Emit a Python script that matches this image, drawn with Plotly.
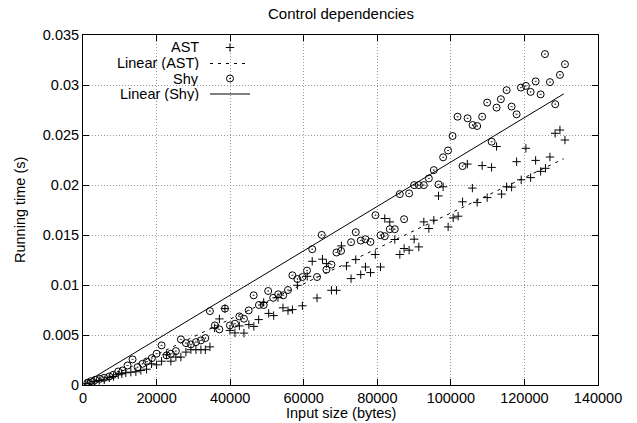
import plotly.graph_objects as go

# ---- data ----
ast_x = [762, 1687, 3048, 4408, 5769, 7129, 8299, 9578, 10557, 11646, 13006, 14367, 15727, 17278,
         18639, 20000, 21360, 22720, 23890, 25251, 26611, 27972, 29332, 30693, 32054, 33251, 34503,
         35782, 37087, 38584, 39944, 41305, 42502, 43754, 45087, 46447, 47753, 49114, 50475, 51835,
         53005, 54366, 55726, 56924, 58284, 59645, 60951, 62311, 63618, 65087, 66175, 67536, 68896,
         70257, 71618, 72869, 74148, 75508, 76787, 78147, 79453, 80868, 82038, 83399, 84759, 86120,
         87290, 88650, 90011, 91290, 92650, 94011, 95371, 96650, 97902, 99262, 100622, 101983,
         103180, 104487, 105847, 107153, 108513, 109874, 111071, 112432, 113792, 115153, 116513,
         117874, 119126, 120405, 121684, 123044, 124405, 125711, 126935, 128350, 129656, 131016]
ast_y = [0.00012, 0.00018, 0.00035, 0.00045, 0.00052, 0.00072, 0.00085, 0.00102, 0.00112, 0.00122,
         0.00128, 0.00132, 0.00145, 0.00158, 0.00212, 0.00202, 0.00238, 0.00303, 0.00238, 0.00279,
         0.00279, 0.00329, 0.00353, 0.00353, 0.00353, 0.00353, 0.00381, 0.00571, 0.00661, 0.00764,
         0.00546, 0.00521, 0.00591, 0.00519, 0.00604, 0.00586, 0.00654, 0.00825, 0.00716, 0.00694,
         0.00874, 0.00772, 0.00743, 0.00754, 0.00997, 0.00792, 0.01087, 0.01237, 0.00870, 0.01258,
         0.01214, 0.00947, 0.00947, 0.01391, 0.01190, 0.01064, 0.01254, 0.01104, 0.01180, 0.01124,
         0.01305, 0.01180, 0.01665, 0.01631, 0.01455, 0.01305, 0.01365, 0.01348, 0.01458, 0.01381,
         0.01631, 0.01565, 0.01648, 0.01891, 0.01982, 0.01581, 0.01671, 0.01688, 0.01832, 0.02209,
         0.01969, 0.01826, 0.02194, 0.01874, 0.02176, 0.02385, 0.01909, 0.01982, 0.01979, 0.02233,
         0.02052, 0.02367, 0.02074, 0.02246, 0.02136, 0.02167, 0.02280, 0.02517, 0.02550, 0.02450]

shy_x = [1224, 2122, 3320, 4571, 5769, 7129, 8217, 9578, 10748, 12108, 13469, 14829, 16190, 17360,
         18720, 20000, 21360, 22720, 23890, 25251, 26611, 27972, 29332, 30693, 32054, 33251, 34503,
         35863, 37060, 38584, 39944, 41305, 42502, 43754, 45033, 46393, 47835, 49114, 50339, 51699,
         53060, 54420, 55726, 56924, 58284, 59645, 60897, 62311, 63618, 64896, 66175, 67536, 68896,
         70148, 72869, 74148, 75508, 76787, 78147, 79508, 80868, 82038, 83399, 84759, 86120, 87290,
         88650, 90011, 91290, 92650, 94011, 95371, 96650, 97902, 99235, 100459, 101820, 103180,
         104541, 105901, 107153, 108513, 109874, 111098, 112432, 113602, 115153, 116513, 117874,
         119044, 120405, 121684, 123044, 124405, 125575, 126935, 128377, 129656, 131016]
shy_y = [0.00022, 0.00038, 0.00052, 0.00062, 0.00072, 0.00085, 0.00102, 0.00135, 0.00145, 0.00195,
         0.00256, 0.00178, 0.00212, 0.00235, 0.00269, 0.00313, 0.00396, 0.00296, 0.00313, 0.00339,
         0.00456, 0.00419, 0.00406, 0.00429, 0.00446, 0.00469, 0.00739, 0.00596, 0.00556, 0.00764,
         0.00596, 0.00613, 0.00686, 0.00663, 0.00746, 0.00897, 0.00800, 0.00800, 0.00940, 0.00872,
         0.00907, 0.00897, 0.00950, 0.01097, 0.01060, 0.01080, 0.01144, 0.01358, 0.01080, 0.01501,
         0.01154, 0.01204, 0.01325, 0.01341, 0.01428, 0.01528, 0.01445, 0.01458, 0.01431, 0.01698,
         0.01498, 0.01488, 0.01558, 0.01558, 0.01909, 0.01658, 0.01916, 0.01999, 0.01999, 0.01999,
         0.02066, 0.02149, 0.02006, 0.02277, 0.02345, 0.02490, 0.02683, 0.02189, 0.02667, 0.02600,
         0.02590, 0.02683, 0.02824, 0.02433, 0.02774, 0.02858, 0.02948, 0.02784, 0.02707, 0.02974,
         0.02991, 0.02931, 0.03036, 0.02906, 0.03309, 0.03029, 0.02808, 0.03101, 0.03208]

# linear fit coefficients (slope, intercept) as drawn in the reference
ast_fit = (1.77e-7, -0.0005)
shy_fit = (2.22e-7, 0.0001)
fit_x_range = [1000, 130700]

x_ticks = [0, 20000, 40000, 60000, 80000, 100000, 120000, 140000]
x_tick_labels = ["0", "20000", "40000", "60000", "80000", "100000", "120000", "140000"]
y_ticks = [0, 0.005, 0.01, 0.015, 0.02, 0.025, 0.03, 0.035]
y_tick_labels = ["0", "0.005", "0.01", "0.015", "0.02", "0.025", "0.03", "0.035"]

legend_labels = ["AST", "Linear (AST)", "Shy", "Linear (Shy)"]

FONT = "Liberation Sans, Arial, Helvetica, sans-serif"
FS = 14.5
FS_TITLE = 15

ast_fit_y = [ast_fit[0] * x + ast_fit[1] for x in fit_x_range]
shy_fit_y = [shy_fit[0] * x + shy_fit[1] for x in fit_x_range]

fig = go.Figure()

plus_marker = dict(symbol="cross-thin", size=6, color="black", line=dict(color="black", width=1))
circ_marker = dict(symbol="circle-open-dot", size=7, color="black", line=dict(color="black", width=1))

fig.add_trace(go.Scatter(x=ast_x, y=ast_y, mode="markers", marker=plus_marker, showlegend=False))
fig.add_trace(go.Scatter(x=fit_x_range, y=ast_fit_y, mode="lines",
                         line=dict(color="black", width=1, dash="3px,5px"), showlegend=False))
fig.add_trace(go.Scatter(x=shy_x, y=shy_y, mode="markers", marker=circ_marker, showlegend=False))
fig.add_trace(go.Scatter(x=fit_x_range, y=shy_fit_y, mode="lines",
                         line=dict(color="black", width=1), showlegend=False))

# ---- custom key (gnuplot style: text right, sample left) on an overlay axis ----
L, R, T, B = 83, 39, 35, 38
W, H = 637, 423
pw, ph = W - L - R, H - T - B
def px2x(px):
    return (px - L) / pw
def py2y(py):
    return (H - B - py) / ph

rows = [47.5, 63.5, 78.5, 94]
key_text_x = px2x(200)
key_samp_x0, key_samp_x1 = px2x(210), px2x(250)
key_mark_x = px2x(230)

fig.add_trace(go.Scatter(x=[key_mark_x], y=[py2y(rows[0])], mode="markers", marker=plus_marker,
                         xaxis="x2", yaxis="y2", showlegend=False, hoverinfo="skip"))
fig.add_trace(go.Scatter(x=[key_samp_x0, key_samp_x1], y=[py2y(rows[1])] * 2, mode="lines",
                         line=dict(color="black", width=1, dash="3px,5px"),
                         xaxis="x2", yaxis="y2", showlegend=False, hoverinfo="skip"))
fig.add_trace(go.Scatter(x=[key_mark_x], y=[py2y(rows[2])], mode="markers", marker=circ_marker,
                         xaxis="x2", yaxis="y2", showlegend=False, hoverinfo="skip"))
fig.add_trace(go.Scatter(x=[key_samp_x0, key_samp_x1], y=[py2y(rows[3])] * 2, mode="lines",
                         line=dict(color="black", width=1),
                         xaxis="x2", yaxis="y2", showlegend=False, hoverinfo="skip"))

annotations = []
for lab, r in zip(legend_labels, rows):
    annotations.append(dict(text=lab, x=key_text_x, y=py2y(r), xref="paper", yref="paper",
                            xanchor="right", yanchor="middle", showarrow=False, height=14,
                            borderpad=0,
                            font=dict(family=FONT, size=FS, color="black")))

# axis titles placed like the reference
annotations.append(dict(text="Input size (bytes)", x=0.5, y=py2y(413), xref="paper", yref="paper",
                        xanchor="center", yanchor="middle", showarrow=False, borderpad=0,
                        font=dict(family=FONT, size=FS, color="black")))
annotations.append(dict(text="Running time (s)", x=px2x(20), y=0.5, xref="paper", yref="paper",
                        xanchor="center", yanchor="middle", showarrow=False, textangle=-90,
                        borderpad=0,
                        font=dict(family=FONT, size=FS, color="black")))
annotations.append(dict(text="Control dependencies", x=0.5, y=py2y(14), xref="paper", yref="paper",
                        xanchor="center", yanchor="middle", showarrow=False, borderpad=0,
                        font=dict(family=FONT, size=FS_TITLE, color="black")))

# white key box hiding the grid
shapes = [dict(type="rect", xref="paper", yref="paper", x0=0, x1=px2x(258), y0=py2y(108), y1=1,
               fillcolor="white", line=dict(width=0), layer="between")]

axis_common = dict(showline=True, linecolor="black", linewidth=1, mirror="ticks",
                   ticks="inside", ticklen=6, tickcolor="black", tickwidth=1,
                   showgrid=True, gridcolor="#9a9a9a", gridwidth=1, griddash="1px,2px",
                   zeroline=False, automargin=False,
                   tickfont=dict(family=FONT, size=FS, color="black"))

fig.update_layout(
    width=W, height=H,
    margin=dict(l=L, r=R, t=T, b=B, autoexpand=False),
    paper_bgcolor="white", plot_bgcolor="white",
    xaxis=dict(range=[0, 140000], tickvals=x_ticks, ticktext=x_tick_labels, **axis_common),
    yaxis=dict(range=[0, 0.035], tickvals=y_ticks, ticktext=y_tick_labels, **axis_common),
    xaxis2=dict(overlaying="x", range=[0, 1], visible=False, fixedrange=True),
    yaxis2=dict(overlaying="y", range=[0, 1], visible=False, fixedrange=True),
    annotations=annotations,
    shapes=shapes,
    showlegend=False,
)

fig.write_html("out.html", config={"displayModeBar": False},
               post_script="document.body.style.margin='0';document.body.style.overflow='hidden';")
